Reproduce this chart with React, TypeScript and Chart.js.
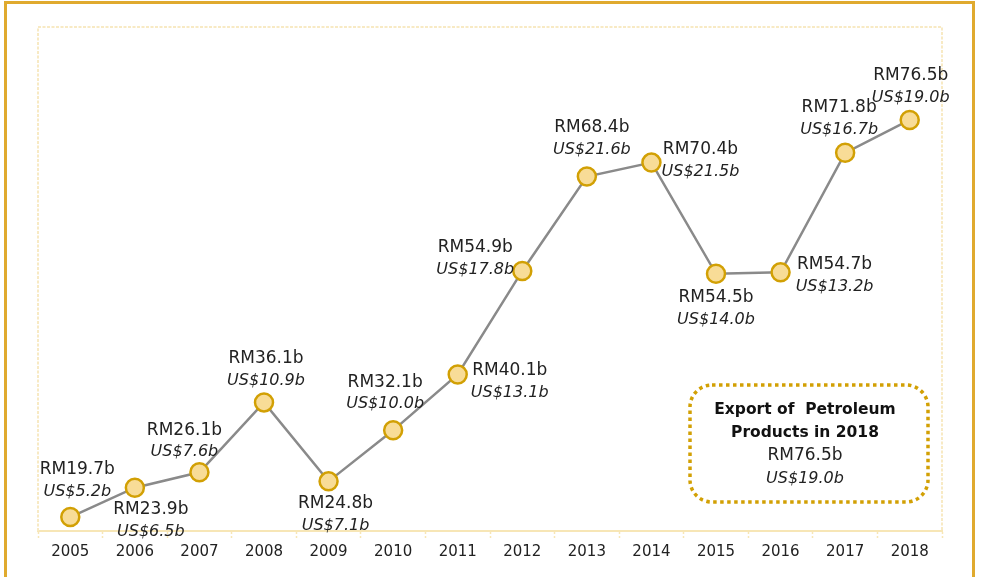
import React, { useEffect, useRef } from "react";
import { Chart, registerables } from "chart.js";

Chart.register(...registerables);

const years = ["2005", "2006", "2007", "2008", "2009", "2010", "2011", "2012", "2013", "2014", "2015", "2016", "2017", "2018"];
const rmValues = [19.7, 23.9, 26.1, 36.1, 24.8, 32.1, 40.1, 54.9, 68.4, 70.4, 54.5, 54.7, 71.8, 76.5];
const usdValues = [5.2, 6.5, 7.6, 10.9, 7.1, 10.0, 13.1, 17.8, 21.6, 21.5, 14.0, 13.2, 16.7, 19.0];

// label placement relative to each point (style only)
const labelOffsets: [number, number][] = [
  [7, -47], [16, 22], [-15, -42], [2, -44], [7, 22], [-8, -48], [52, -4],
  [-47, -23], [5, -49], [49, -13], [0, 24], [54, -8], [-6, -45], [1, -44],
];

const boxTitle = ["Export of  Petroleum", "Products in 2018"];

const FONT = "'DejaVu Sans', sans-serif";
const GOLD = "#D2A004";
const LIGHT = "#F7E6B6";

const fmtRM = (v: number) => `RM${v.toFixed(1)}b`;
const fmtUS = (v: number) => `US$${v.toFixed(1)}b`;

const decorPlugin = {
  id: "decor",
  beforeDatasetsDraw(chart: any) {
    const { ctx, chartArea: a } = chart;
    ctx.save();
    ctx.strokeStyle = "#F8EAC4";
    ctx.lineWidth = 2;
    ctx.setLineDash([3, 1.5]);
    const l = Math.round(a.left);
    const r = Math.round(a.right);
    const t = Math.round(a.top);
    ctx.beginPath();
    ctx.moveTo(l, a.bottom);
    ctx.lineTo(l, t);
    ctx.lineTo(r, t);
    ctx.lineTo(r, a.bottom);
    ctx.stroke();
    ctx.restore();
  },
  afterDatasetsDraw(chart: any) {
    const { ctx, chartArea: a } = chart;
    const meta = chart.getDatasetMeta(0);
    ctx.save();
    ctx.fillStyle = "#222";
    ctx.textAlign = "center";
    ctx.textBaseline = "middle";
    meta.data.forEach((pt: any, i: number) => {
      const [dx, dy] = labelOffsets[i];
      const x = pt.x + dx;
      const y = pt.y + dy;
      ctx.font = `17px ${FONT}`;
      ctx.fillText(fmtRM(rmValues[i]), x, y);
      ctx.font = `italic 16px ${FONT}`;
      ctx.fillText(fmtUS(usdValues[i]), x, y + 22);
    });

    // annotation box
    const right = a.right - 14;
    const left = right - 238;
    const bottom = a.bottom - 29;
    const top = bottom - 117;
    ctx.strokeStyle = GOLD;
    ctx.lineWidth = 3.5;
    ctx.setLineDash([3.5, 3.5]);
    ctx.beginPath();
    ctx.roundRect(left, top, right - left, bottom - top, 22);
    ctx.stroke();
    ctx.setLineDash([]);
    const cx = (left + right) / 2 - 4;
    const last = rmValues.length - 1;
    ctx.fillStyle = "#111";
    ctx.font = `bold 15.5px ${FONT}`;
    ctx.fillText(boxTitle[0], cx, top + 25);
    ctx.fillText(boxTitle[1], cx, top + 48);
    ctx.fillStyle = "#222";
    ctx.font = `17px ${FONT}`;
    ctx.fillText(fmtRM(rmValues[last]), cx, top + 71);
    ctx.font = `italic 16px ${FONT}`;
    ctx.fillText(fmtUS(usdValues[last]), cx, top + 94);
    ctx.restore();
  },
};

export default function App() {
  const ref = useRef<HTMLCanvasElement>(null);
  useEffect(() => {
    if (!ref.current) return;
    const chart = new Chart(ref.current, {
      type: "line",
      data: {
        labels: years,
        datasets: [
          {
            data: rmValues,
            borderColor: "#8A8A8A",
            borderWidth: 2.5,
            pointRadius: 9,
            pointBorderWidth: 2.5,
            pointBorderColor: GOLD,
            pointBackgroundColor: "#F8DC97",
            tension: 0,
          },
        ],
      },
      options: {
        animation: false,
        responsive: false,
        layout: { padding: { left: 38, right: 39, top: 27, bottom: 0 } },
        plugins: { legend: { display: false }, tooltip: { enabled: false } },
        scales: {
          y: { display: false, min: 17.7, max: 89.8 },
          x: {
            offset: true,
            grid: {
              offset: true,
              drawOnChartArea: false,
              drawTicks: true,
              tickLength: 7,
              tickColor: LIGHT,
              tickWidth: 1.5,
              tickBorderDash: [2, 2],
            },
            border: { display: true, color: LIGHT, width: 2 },
            ticks: {
              color: "#222",
              padding: 5,
              font: { family: FONT, size: 15 },
              maxRotation: 0,
            },
            afterFit: (scale: any) => {
              scale.height = 46;
            },
          },
        },
      },
      plugins: [decorPlugin],
    });
    return () => chart.destroy();
  }, []);

  return (
    <div style={{ position: "absolute", left: 0, top: 0, width: 981, height: 577, overflow: "hidden", background: "#fff" }}>
      <div
        style={{
          position: "absolute",
          left: 4,
          top: 1,
          width: 971,
          height: 620,
          border: "3px solid #E0AA2E",
          boxSizing: "border-box",
        }}
      />
      <canvas ref={ref} width={981} height={577} style={{ position: "absolute", left: 0, top: 0 }} />
    </div>
  );
}
